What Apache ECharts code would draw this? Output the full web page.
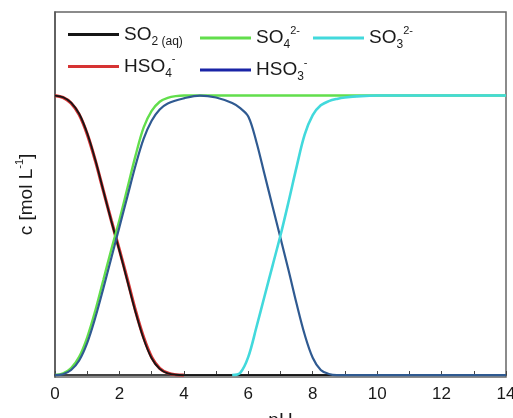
<!DOCTYPE html>
<html>
<head>
<meta charset="utf-8">
<script src="https://cdn.jsdelivr.net/npm/echarts@6/dist/echarts.min.js"></script>
<style>
html,body{margin:0;padding:0;background:#fff;}
#chart{width:513px;height:418px;}
</style>
</head>
<body>
<div id="chart"></div>
<script>
// pH sample points and read concentrations (normalised)
const phSO2  = [0,0.25,0.5,0.75,1,1.25,1.5,1.75,2,2.25,2.5,2.75,3,3.25,3.5,3.75,4,5,6,7,8,9,10,11,12,13,14];
const SO2    = [1,0.994,0.975,0.935,0.865,0.77,0.66,0.55,0.445,0.335,0.225,0.13,0.06,0.022,0.006,0.001,0,0,0,0,0,0,0,0,0,0,0];
const phHSO4 = [0,0.25,0.5,0.75,1,1.25,1.5,1.75,2,2.25,2.5,2.75,3,3.25,3.5,3.75,4];
const HSO4   = [1,0.993,0.973,0.932,0.862,0.768,0.66,0.552,0.448,0.34,0.23,0.135,0.064,0.024,0.007,0.001,0];
const phSO4  = [0,0.25,0.5,0.75,1,1.25,1.5,1.75,2,2.25,2.5,2.75,3,3.25,3.5,3.75,4,5,6,7,8,9,10,11,12,13,14];
const SO4    = [0,0.006,0.025,0.065,0.135,0.23,0.34,0.45,0.555,0.67,0.785,0.885,0.945,0.978,0.992,0.998,1,1,1,1,1,1,1,1,1,1,1];
const phHSO3 = [0,0.25,0.5,0.75,1,1.25,1.5,1.75,2,2.25,2.5,2.75,3,3.25,3.5,4,4.5,5,5.5,5.75,6,6.25,6.5,6.75,7,7.25,7.5,7.75,8,8.25,8.5,8.75,10,12,14];
const HSO3   = [0,0.003,0.018,0.052,0.115,0.205,0.31,0.42,0.53,0.64,0.75,0.845,0.91,0.95,0.972,0.99,1,0.993,0.973,0.955,0.925,0.835,0.72,0.605,0.49,0.375,0.255,0.145,0.062,0.018,0.004,0,0,0,0];
const phSO3  = [5.5,5.75,6,6.25,6.5,6.75,7,7.25,7.5,7.75,8,8.25,8.5,8.75,9,9.5,10,11,12,13,14];
const SO3    = [0,0.008,0.065,0.17,0.28,0.39,0.5,0.62,0.745,0.86,0.93,0.965,0.98,0.988,0.993,0.998,1,1,1,1,1];

const xTicks = [0,2,4,6,8,10,12,14];

function pairs(xs, ys){ return xs.map((x,i)=>[x, ys[i]]); }

const chart = echarts.init(document.getElementById('chart'), null, {renderer:'canvas'});
const FONT = 'Liberation Sans, Arial, sans-serif';
const rich = {
  m:  {fontSize:19, lineHeight:26, fontFamily:FONT, color:'#1a1a1a'},
  sub:{fontSize:12, lineHeight:12, verticalAlign:'bottom', fontFamily:FONT, color:'#1a1a1a'},
  sup:{fontSize:11, lineHeight:11, verticalAlign:'top', fontFamily:FONT, color:'#1a1a1a'}
};
const labels = {
  SO2:  '{m|SO}{sub|2 (aq)}',
  HSO4: '{m|HSO}{sub|4}{sup|-}',
  SO4:  '{m|SO}{sub|4}{sup|2-}',
  HSO3: '{m|HSO}{sub|3}{sup|-}',
  SO3:  '{m|SO}{sub|3}{sup|2-}'
};
const C = {SO2:'#161616', HSO4:'#d63333', SO4:'#62de4c', HSO3:'#2f5a91', SO3:'#42d9dc'};

function legend(left, items){
  return {
    orient:'vertical', left:left, top:20, itemGap:6,
    itemWidth:51, itemHeight:3, icon:'rect',
    selectedMode:false,
    data: items.map(n=>({name:n, itemStyle:{color: n==='HSO3' ? '#1a24a6' : C[n]}})),
    formatter: n=>labels[n],
    textStyle:{rich:rich},
    itemStyle:{borderWidth:0}
  };
}

function line(name, xs, ys, width){
  return {
    name:name, type:'line', data:pairs(xs,ys), smooth:0.35, symbol:'none',
    lineStyle:{color:C[name], width:width}, itemStyle:{color:C[name]},
    emphasis:{disabled:true}, animation:false, z:2
  };
}

chart.setOption({
  animation:false,
  backgroundColor:'#fff',
  grid:{left:55, right:7, top:12, bottom:41, show:true, borderColor:'#666', borderWidth:1.5, outerBoundsMode:'none', containLabel:false},
  legend:[ legend(63,['SO2','HSO4']), legend(195,['SO4','HSO3']), legend(308,['SO3']) ],
  xAxis:{
    type:'value', min:0, max:14, interval:1,
    name:'pH', nameLocation:'middle', nameGap:34,
    nameTextStyle:{fontSize:19, fontFamily:FONT, color:'#1a1a1a'},
    axisLine:{lineStyle:{color:'#444', width:2}},
    axisTick:{inside:true, length:4, lineStyle:{color:'#444', width:1}},
    axisLabel:{fontSize:17, fontFamily:FONT, color:'#1a1a1a', margin:9,
      formatter:v=> xTicks.indexOf(v)>=0 ? String(v) : ''},
    splitLine:{show:false}
  },
  yAxis:{
    type:'value', min:-0.007, max:1.299,
    name:'{m|c [mol L}{sup|-1}{m|]}', nameLocation:'middle', nameGap:15,
    nameTextStyle:{rich:rich},
    axisLine:{show:true, lineStyle:{color:'#555', width:1.5}},
    axisTick:{show:false}, axisLabel:{show:false}, splitLine:{show:false}
  },
  series:[
    line('HSO4', phHSO4, HSO4, 3.2),
    line('SO2', phSO2, SO2, 1.8),
    line('SO4', phSO4, SO4, 2.4),
    line('HSO3', phHSO3, HSO3, 2.2),
    line('SO3', phSO3, SO3, 2.6)
  ]
});
</script>
</body>
</html>
